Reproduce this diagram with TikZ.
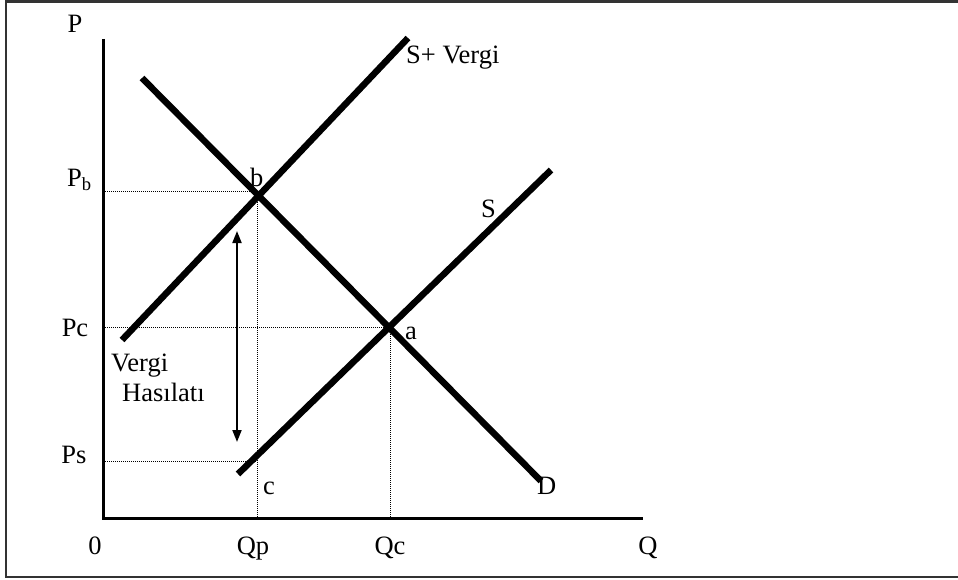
\documentclass[tikz,border=0pt]{standalone}
\usepackage{fontspec}
\setmainfont{Liberation Serif}
\usetikzlibrary{arrows.meta}
\begin{document}
\begin{tikzpicture}[x=1pt,y=-1pt,
  curve/.style={line width=6.5pt},
  axis/.style={line width=3pt},
  guide/.style={line width=1pt,dash pattern=on 1pt off 1pt},
  frame/.style={line width=2.5pt,draw=black!80},
  lbl/.style={inner sep=0pt,anchor=base,font=\fontsize{26.5}{30}\selectfont},
  lblw/.style={inner sep=0pt,anchor=base west,font=\fontsize{26.5}{30}\selectfont}]
\useasboundingbox (0,0) rectangle (958,580);
\fill[white] (0,0) rectangle (958,580);
% frame
\coordinate (f1) at (960,1.5);
\coordinate (f2) at (6,1.5);
\coordinate (f3) at (6,577);
\coordinate (f4) at (960,577);
\draw[frame] (f1) -- (f2) -- (f3) -- (f4);
% axes
\coordinate (ytop) at (103,39);
\coordinate (origin) at (103,518);
\coordinate (xend) at (643,518);
\draw[axis] (ytop) -- (origin) -- (xend);
% key points
\coordinate (b) at (257,192);
\coordinate (a) at (390,327);
\coordinate (c) at (257,461);
\coordinate (yb) at (103,192);
\coordinate (ya) at (103,327);
\coordinate (yc) at (103,461);
\coordinate (xb) at (257,518);
\coordinate (xa) at (390,518);
% guides
\draw[guide] (yb) -- (b) -- (xb);
\draw[guide] (ya) -- (a) -- (xa);
\draw[guide] (yc) -- (c);
% curves
\coordinate (D1) at (142,78);
\coordinate (D2) at (541,481);
\coordinate (T1) at (122,340);
\coordinate (T2) at (408,38);
\coordinate (S1) at (238,474);
\coordinate (S2) at (551,170);
\draw[curve] (D1) -- (D2);
\draw[curve] (T1) -- (T2);
\draw[curve] (S1) -- (S2);
% tax revenue arrow
\coordinate (ar1) at (237,231);
\coordinate (ar2) at (237,442);
\draw[line width=2pt,{Triangle[length=12pt,width=9pt]}-{Triangle[length=12pt,width=9pt]}] (ar1) -- (ar2);
% labels
\node[lbl] (lP) at (75,33) {P};
\node[lblw] (lPb) at (67,186) {P\textsubscript{b}};
\node[lbl] (lPc) at (75,336) {Pc};
\node[lbl] (lPs) at (74,463) {Ps};
\node[lbl] (l0) at (95,554) {0};
\node[lbl] (lQp) at (253,554) {Qp};
\node[lbl] (lQc) at (390,554) {Qc};
\node[lbl] (lQ) at (648,554) {Q};
\node[lblw] (lD) at (537,494) {D};
\node[lblw] (lc) at (263,494) {c};
\node[lblw] (lb) at (250,186) {b};
\node[lblw] (la) at (405,339) {a};
\node[lblw] (lS) at (481,218) {S};
\node[lblw] (lSV) at (406,64) {S+ Vergi};
\node[lblw] (lV) at (111,371) {Vergi};
\node[lblw] (lH) at (122,401) {Hasılatı};
\end{tikzpicture}
\end{document}
